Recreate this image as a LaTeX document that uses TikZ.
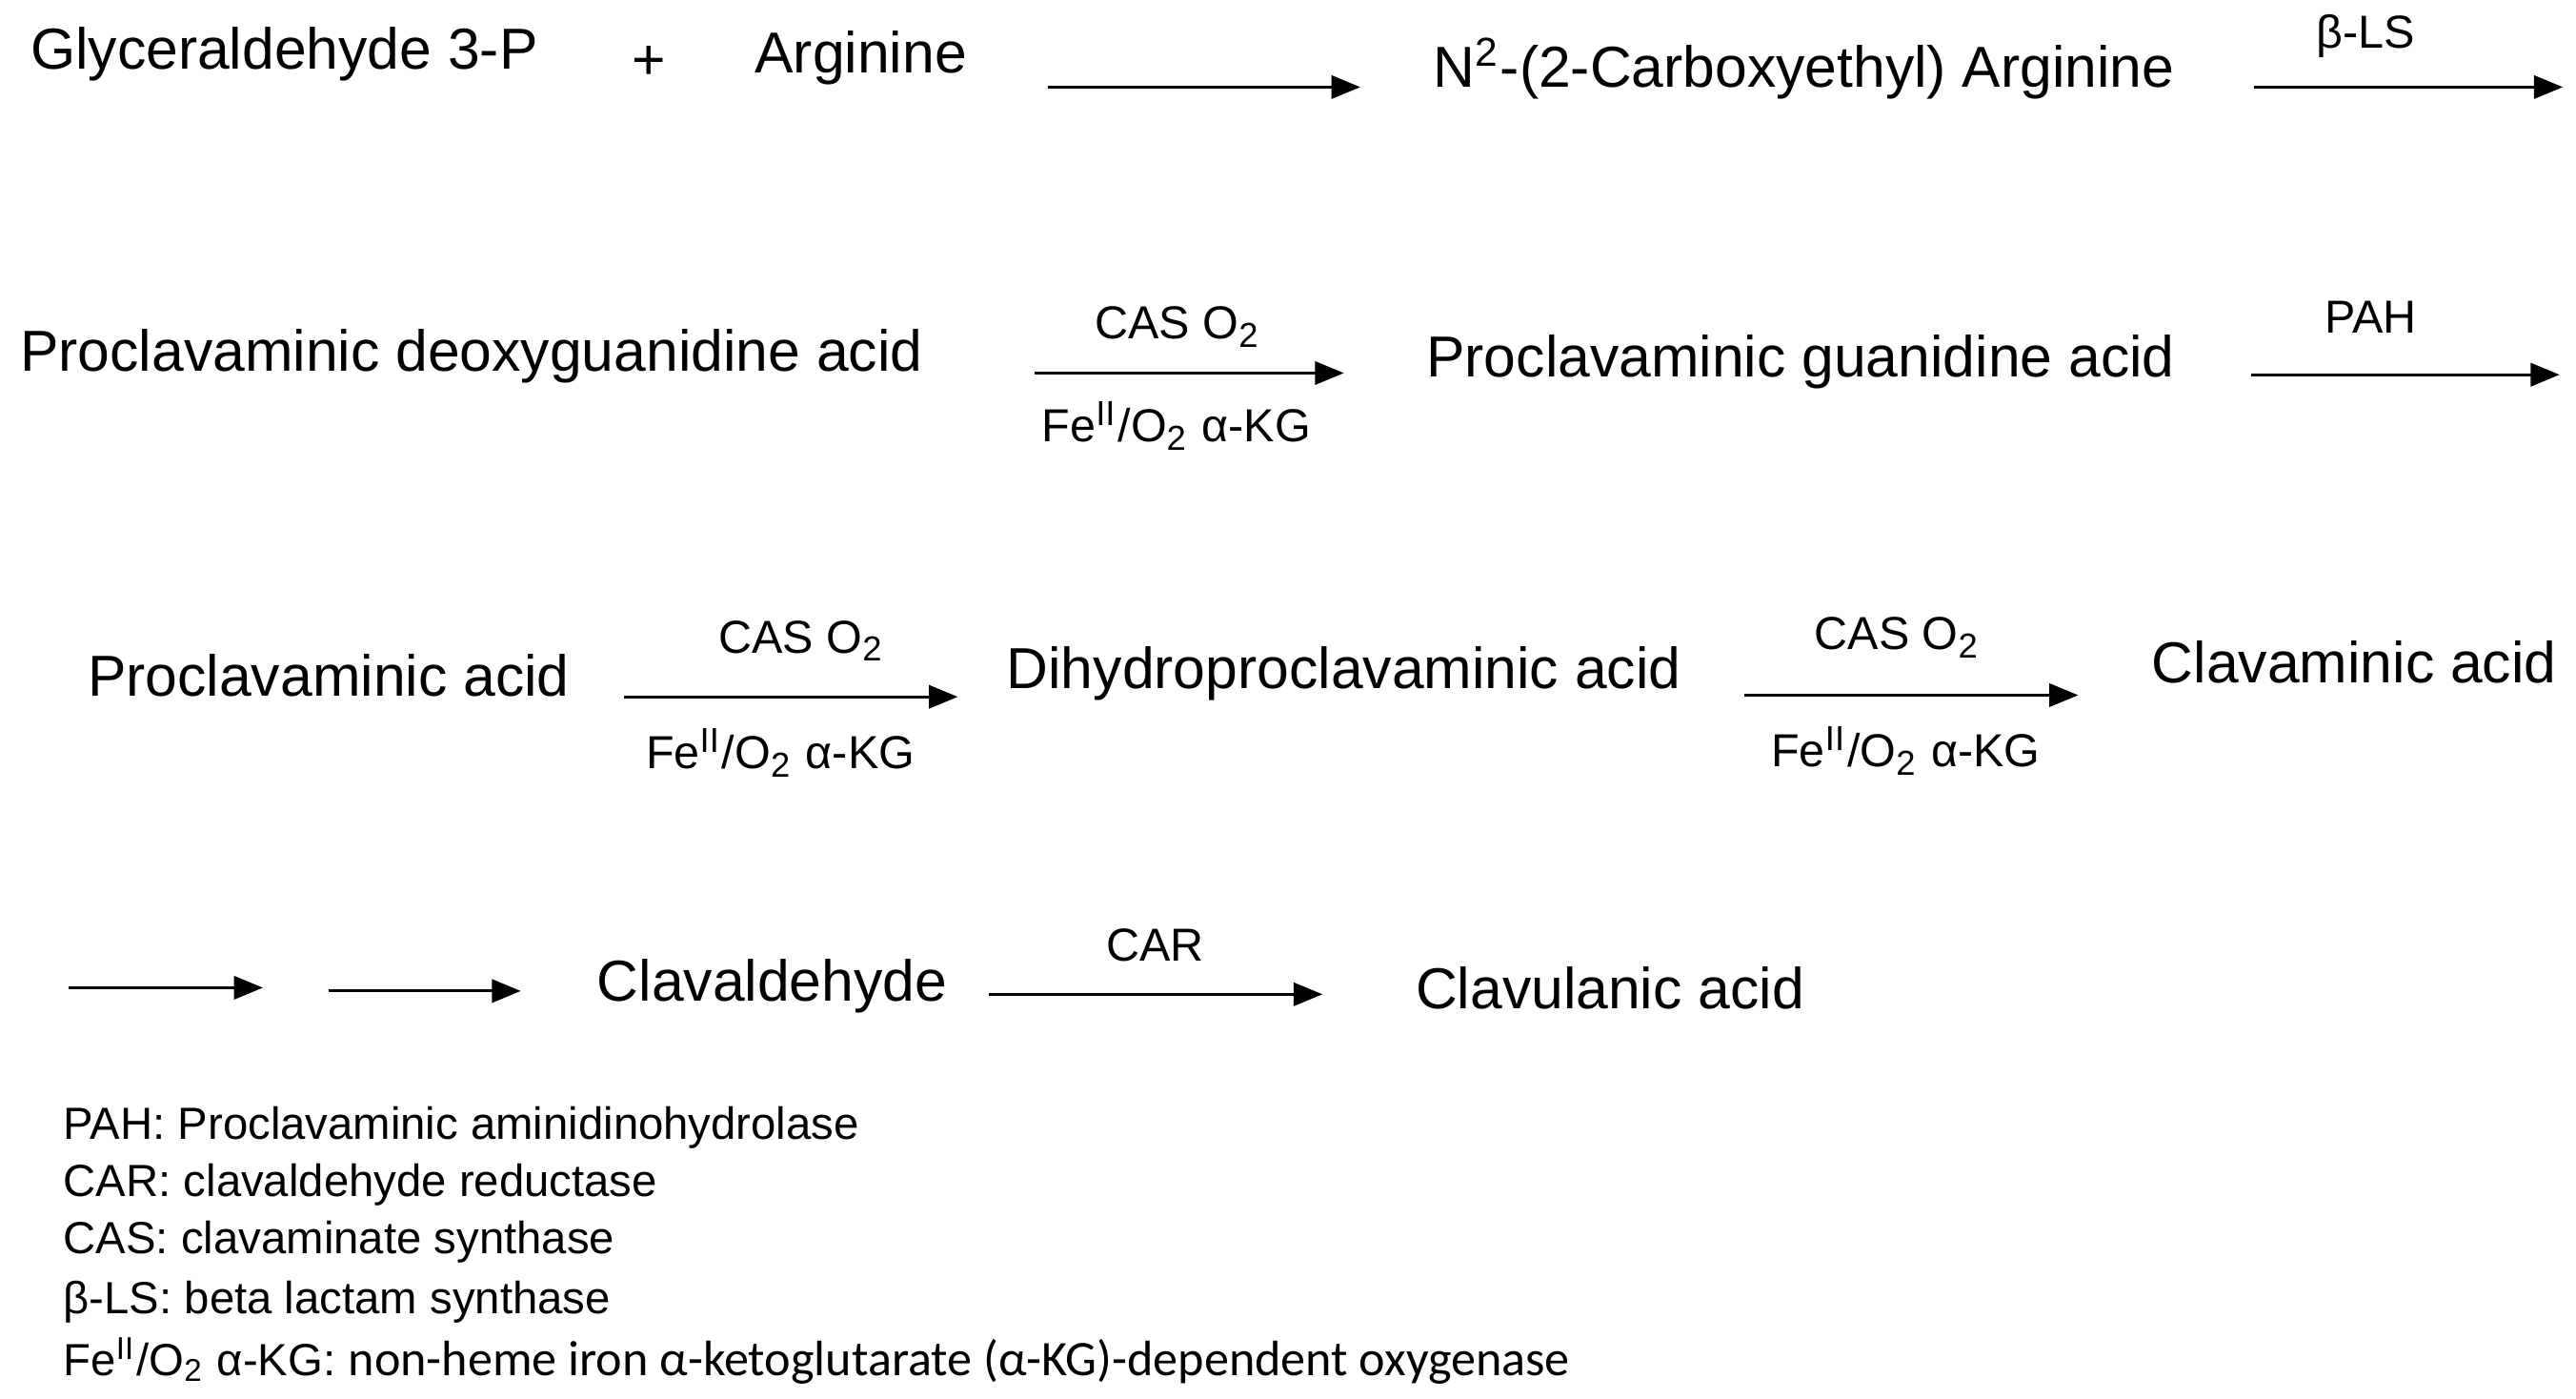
\documentclass[tikz,border=0pt]{standalone}
\usepackage{fontspec}
\setmainfont{Liberation Sans}
\newfontfamily\calib{Carlito}
\usetikzlibrary{arrows.meta}
\begin{document}
\begin{tikzpicture}[x=0.01cm,y=-0.01cm,
  cmp/.style={font=\fontsize{10}{12}\selectfont,inner sep=0pt},
  lab/.style={font=\fontsize{8}{10}\selectfont,inner sep=0pt},
  leg/.style={font=\fontsize{7.8}{10}\selectfont,inner sep=0pt,anchor=west},
  rx/.style={-{Triangle[length=5pt,width=4pt]},line width=0.5pt}]
\useasboundingbox (0,0) rectangle (1568,851);
\node[cmp] (g) at (173,33) {Glyceraldehyde 3-P};
\node[cmp] (plus) at (395,38) {+};
\node[cmp] (arg) at (524,35) {Arginine};
\coordinate (a1s) at (638,53); \coordinate (a1e) at (828,53);
\draw[rx] (a1s) -- (a1e);
\node[cmp] (n2) at (1098,42) {N\textsuperscript{2}-(2-Carboxyethyl) Arginine};
\node[lab] (bls) at (1440,22) {β-LS};
\coordinate (a2s) at (1372,53); \coordinate (a2e) at (1560,53);
\draw[rx] (a2s) -- (a2e);

\node[cmp] (pdg) at (287,217) {Proclavaminic deoxyguanidine acid};
\coordinate (a3s) at (630,227); \coordinate (a3e) at (818,227);
\draw[rx] (a3s) -- (a3e);
\node[lab] (l3a) at (717,199) {CAS O\textsubscript{2}};
\node[lab] (l3b) at (716,259) {Fe\textsuperscript{II}/O\textsubscript{2} α-KG};
\node[cmp] (pga) at (1096,220) {Proclavaminic guanidine acid};
\node[lab] (pah) at (1443,193) {PAH};
\coordinate (a4s) at (1370,228); \coordinate (a4e) at (1558,228);
\draw[rx] (a4s) -- (a4e);

\node[cmp] (pa) at (200,411) {Proclavaminic acid};
\coordinate (a5s) at (380,424); \coordinate (a5e) at (583,424);
\draw[rx] (a5s) -- (a5e);
\node[lab] (l5a) at (488,390) {CAS O\textsubscript{2}};
\node[lab] (l5b) at (475,458) {Fe\textsuperscript{II}/O\textsubscript{2} α-KG};
\node[cmp] (dpa) at (818,410) {Dihydroproclavaminic acid};
\coordinate (a6s) at (1062,423); \coordinate (a6e) at (1265,423);
\draw[rx] (a6s) -- (a6e);
\node[lab] (l6a) at (1155,388) {CAS O\textsubscript{2}};
\node[lab] (l6b) at (1160,457) {Fe\textsuperscript{II}/O\textsubscript{2} α-KG};
\node[cmp] (ca) at (1433,403) {Clavaminic acid};

\coordinate (a7s) at (42,601); \coordinate (a7e) at (160,601);
\draw[rx] (a7s) -- (a7e);
\coordinate (a8s) at (200,603); \coordinate (a8e) at (317,603);
\draw[rx] (a8s) -- (a8e);
\node[cmp] (cld) at (470,600) {Clavaldehyde};
\coordinate (a9s) at (602,605); \coordinate (a9e) at (805,605);
\draw[rx] (a9s) -- (a9e);
\node[lab] (car) at (703,575) {CAR};
\node[cmp] (cla) at (980,601) {Clavulanic acid};

\node[leg] (k1) at (38,686) {PAH: Proclavaminic aminidinohydrolase};
\node[leg] (k2) at (38,721) {CAR: clavaldehyde reductase};
\node[leg] (k3) at (38,756) {CAS: clavaminate synthase};
\node[leg] (k4) at (38,792) {β-LS: beta lactam synthase};
\node[leg] (k5) at (38,828) {Fe\textsuperscript{II}/O\textsubscript{2} α-KG: {\calib\fontsize{8.6}{10}\selectfont non-heme iron α-ketoglutarate (α-KG)-dependent oxygenase}};
\end{tikzpicture}
\end{document}
